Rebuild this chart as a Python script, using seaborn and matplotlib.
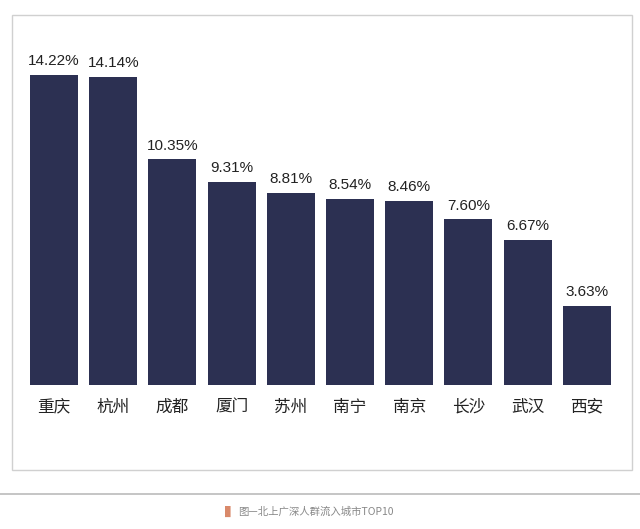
import matplotlib.pyplot as plt
import seaborn as sns
import pandas as pd
from matplotlib.patches import Rectangle

plt.rcParams['font.family'] = ['Noto Sans CJK SC', 'DejaVu Sans']

CITIES = ['重庆', '杭州', '成都', '厦门', '苏州', '南宁', '南京', '长沙', '武汉', '西安']
SHARES = [14.22, 14.14, 10.35, 9.31, 8.81, 8.54, 8.46, 7.60, 6.67, 3.63]
CAPTION = '图—北上广深人群流入城市TOP10'

df = pd.DataFrame({'city': CITIES, 'share': SHARES})

fig = plt.figure(figsize=(6.4, 5.29), dpi=100)
fig.patches.append(Rectangle((12 / 640, 1 - 470 / 529), 620 / 640, 455 / 529,
                             transform=fig.transFigure, fill=False,
                             edgecolor='#d0d0d0', linewidth=1))
fig.add_artist(plt.Line2D([0, 1], [1 - 494 / 529] * 2, color='#bbbbbb', linewidth=1.2))

ax = fig.add_axes([24.4 / 640, 144 / 529, 592 / 640, 338 / 529])
sns.barplot(data=df, x='city', y='share', color='#2c3052', width=0.81,
            saturation=1, ax=ax)
ax.set_xlim(-0.5, 9.5)
ax.set_ylim(0, 15.5)
for i, v in enumerate(SHARES):
    ax.text(i, v + 0.3, f'{v:.2f}%', ha='center', va='bottom', fontsize=11,
            color='#222222', family='Liberation Sans')
ax.set_xlabel('')
ax.set_ylabel('')
ax.set_yticks([])
ax.tick_params(axis='x', length=0, labelsize=12, pad=10, colors='#222222')
for s in ax.spines.values():
    s.set_visible(False)

fig.text(0.352, 1 - 512 / 529, '▌', color='#d9896a', fontsize=8, va='center')
fig.text(0.372, 1 - 512 / 529, CAPTION, color='#888888', fontsize=7.5, va='center')

fig.savefig('out.png', dpi=100)
